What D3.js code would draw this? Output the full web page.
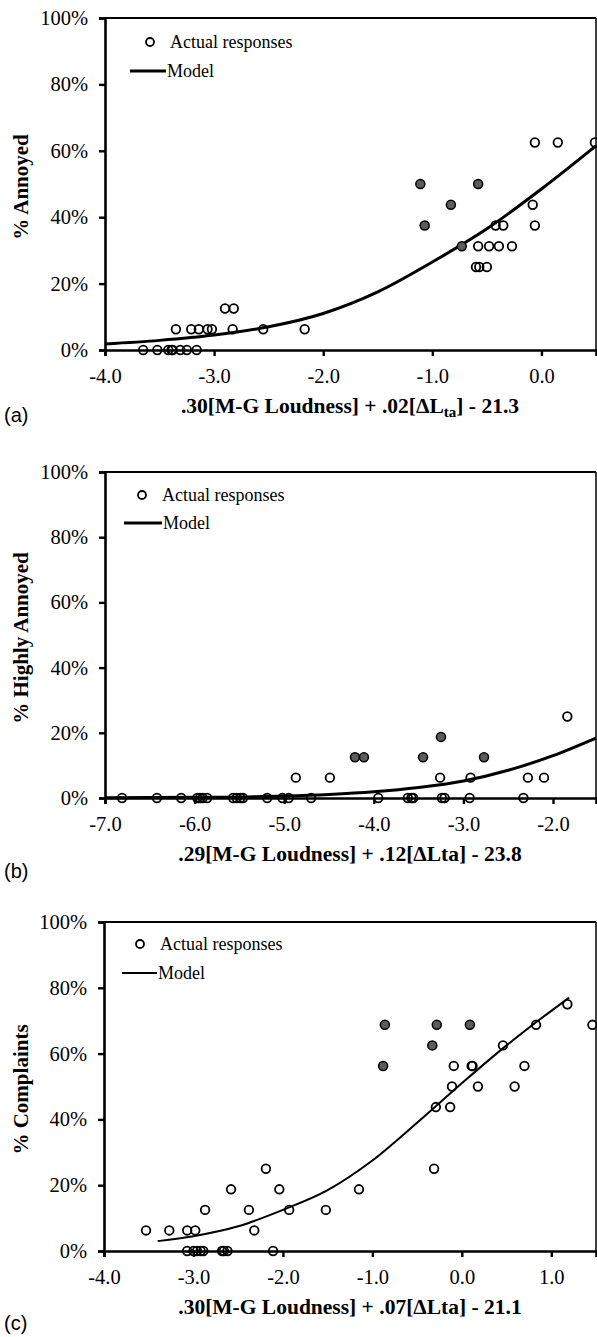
<!DOCTYPE html>
<html>
<head>
<meta charset="utf-8">
<script src="https://cdn.jsdelivr.net/npm/d3@7"></script>
<style>
  body { margin: 0; background: #fff; }
  svg text { font-family: "Liberation Serif", "Times New Roman", serif; fill: #000; }
  .axis-title { font-size: 21.5px; font-weight: bold; }
  .legend { font-size: 18px; }
</style>
</head>
<body>
<div id="chart"></div>
<script>
// (a) % annoyed
const annoyedOpen = [
  [-3.65, 0], [-3.52, 0], [-3.42, 0], [-3.39, 0], [-3.38, 0], [-3.31, 0], [-3.25, 0], [-3.16, 0],
  [-3.35, 6.25], [-3.21, 6.25], [-3.14, 6.25], [-3.06, 6.25], [-3.02, 6.25], [-2.83, 6.25], [-2.55, 6.25],
  [-2.90, 12.5], [-2.82, 12.5], [-2.17, 6.25],
  [-0.60, 25], [-0.57, 25], [-0.50, 25],
  [-0.58, 31.25], [-0.48, 31.25], [-0.39, 31.25], [-0.27, 31.25],
  [-0.42, 37.5], [-0.35, 37.5], [-0.06, 37.5], [-0.08, 43.75],
  [-0.06, 62.5], [0.15, 62.5], [0.49, 62.5]
]
const annoyedFilled = [[-1.11, 50], [-1.07, 37.5], [-0.83, 43.75], [-0.73, 31.25], [-0.58, 50]]
const annoyedModel = [
  [-4, 1.8], [-3.5, 2.9], [-3, 4.5], [-2.5, 7], [-2, 11], [-1.5, 17.5],
  [-1, 26.5], [-0.5, 36.5], [0, 48.5], [0.5, 61.5]
]

// (b) % highly annoyed
const highlyOpen = [
  [-6.81, 0], [-6.42, 0], [-6.15, 0], [-5.97, 0], [-5.94, 0], [-5.91, 0], [-5.86, 0],
  [-5.57, 0], [-5.53, 0], [-5.49, 0], [-5.46, 0], [-5.19, 0], [-5.02, 0], [-4.95, 0],
  [-4.70, 0], [-3.95, 0], [-3.62, 0], [-3.58, 0], [-3.56, 0], [-3.24, 0], [-3.21, 0],
  [-2.93, 0], [-2.33, 0],
  [-4.87, 6.25], [-4.49, 6.25], [-3.26, 6.25], [-2.92, 6.25], [-2.28, 6.25], [-2.10, 6.25],
  [-1.84, 25]
]
const highlyFilled = [[-4.21, 12.5], [-4.11, 12.5], [-3.45, 12.5], [-2.77, 12.5], [-3.25, 18.75]]
const highlyModel = [
  [-7, 0.1], [-6, 0.2], [-5, 0.6], [-4.5, 1.1], [-4, 1.9], [-3.5, 3.2],
  [-3, 5.2], [-2.5, 8.5], [-2, 13], [-1.52, 18.4]
]

// (c) % complaints
const complaintsOpen = [
  [-3.07, 0], [-3.00, 0], [-2.96, 0], [-2.92, 0], [-2.89, 0], [-2.68, 0], [-2.66, 0], [-2.62, 0], [-2.11, 0],
  [-3.53, 6.25], [-3.27, 6.25], [-3.07, 6.25], [-2.98, 6.25], [-2.32, 6.25],
  [-2.87, 12.5], [-2.38, 12.5], [-1.93, 12.5], [-1.52, 12.5],
  [-2.58, 18.75], [-2.04, 18.75], [-1.15, 18.75],
  [-2.19, 25], [-0.31, 25],
  [-0.29, 43.75], [-0.13, 43.75],
  [-0.11, 50], [0.18, 50], [0.59, 50],
  [-0.09, 56.25], [0.11, 56.25], [0.12, 56.25], [0.70, 56.25],
  [0.46, 62.5], [0.83, 68.75], [1.46, 68.75], [1.18, 75]
]
const complaintsFilled = [[-0.86, 68.75], [-0.28, 68.75], [0.09, 68.75], [-0.33, 62.5], [-0.88, 56.25]]
const complaintsModel = [
  [-3.4, 3], [-3, 4.5], [-2.5, 7.5], [-2, 12.5], [-1.5, 18.5], [-1, 27.5],
  [-0.5, 39], [0, 51], [0.5, 62.5], [1, 73], [1.2, 77]
]

const yTicks = [0, 20, 40, 60, 80, 100]
const panels = [
  { tag: '(a)', ytitle: '% Annoyed', xdom: [-4, 0.5], xticks: [-4, -3, -2, -1, 0],
    xtitle: ['.30[M-G Loudness] + .02[ΔL', 'ta', '] - 21.3'],
    open: annoyedOpen, filled: annoyedFilled, model: annoyedModel,
    top: 18, bottom: 350, left: 105, lineW: 3, tagY: 422,
    leg: [150, 42, 130, 166, 71] },
  { tag: '(b)', ytitle: '% Highly Annoyed', xdom: [-7, -1.52], xticks: [-7, -6, -5, -4, -3, -2],
    xtitle: ['.29[M-G Loudness] + .12[ΔLta] - 23.8'],
    open: highlyOpen, filled: highlyFilled, model: highlyModel,
    top: 472, bottom: 798, left: 105, lineW: 3, tagY: 878,
    leg: [142, 495, 124, 162, 523] },
  { tag: '(c)', ytitle: '% Complaints', xdom: [-4, 1.5], xticks: [-4, -3, -2, -1, 0, 1],
    xtitle: ['.30[M-G Loudness] + .07[ΔLta] - 21.1'],
    open: complaintsOpen, filled: complaintsFilled, model: complaintsModel,
    top: 922, bottom: 1251, left: 104, lineW: 2, tagY: 1330,
    leg: [140, 944, 122, 157, 973] }
]

const W = 597, H = 1337, right = 596
const serif = '"Liberation Serif", "Times New Roman", serif'

const svg = d3.select('#chart').append('svg')
  .attr('width', W)
  .attr('height', H)
  .attr('xmlns', 'http://www.w3.org/2000/svg')

panels.forEach(p => {
  const x = d3.scaleLinear().domain(p.xdom).range([p.left, right])
  const y = d3.scaleLinear().domain([0, 100]).range([p.bottom, p.top])
  const g = svg.append('g')

  // model curve first so the hollow markers sit over it
  const line = d3.line().x(d => x(d[0])).y(d => y(d[1])).curve(d3.curveMonotoneX)
  g.append('path')
    .datum(p.model)
    .attr('d', line)
    .attr('fill', 'none')
    .attr('stroke', '#000')
    .attr('stroke-width', p.lineW)

  g.selectAll('circle.open').data(p.open).join('circle')
    .attr('class', 'open')
    .attr('cx', d => x(d[0])).attr('cy', d => y(d[1]))
    .attr('r', 4.3)
    .attr('fill', 'none').attr('stroke', '#000').attr('stroke-width', 1.8)

  g.selectAll('circle.filled').data(p.filled).join('circle')
    .attr('class', 'filled')
    .attr('cx', d => x(d[0])).attr('cy', d => y(d[1]))
    .attr('r', 4.5)
    .attr('fill', '#5c5c5c').attr('stroke', '#000').attr('stroke-width', 1.5)

  // frame: top and right borders
  g.append('line').attr('x1', p.left).attr('x2', right).attr('y1', p.top).attr('y2', p.top)
    .attr('stroke', '#000').attr('stroke-width', 2)
  g.append('line').attr('x1', right).attr('x2', right).attr('y1', p.top).attr('y2', p.bottom)
    .attr('stroke', '#000').attr('stroke-width', 1.5)

  const yAxis = g.append('g')
    .attr('transform', `translate(${p.left},0)`)
    .call(d3.axisLeft(y).tickValues(yTicks).tickFormat(d => d + '%').tickSize(6).tickPadding(11))
  const xAxis = g.append('g')
    .attr('transform', `translate(0,${p.bottom})`)
    .call(d3.axisBottom(x).tickValues(p.xticks).tickSize(6).tickPadding(12))
  ;[yAxis, xAxis].forEach(a => {
    a.select('.domain').attr('stroke-width', 2.6)
    a.selectAll('.tick line').attr('stroke-width', 2.4)
    a.attr('font-size', 20).attr('font-family', serif)
    a.selectAll('.tick text').style('font-family', serif).style('font-size', '20.5px')
  })
  xAxis.selectAll('.tick text').text(d => d3.format('.1f')(d).replace('−', '-'))

  // x title
  const xt = g.append('text')
    .attr('class', 'axis-title')
    .attr('x', 350)
    .attr('y', p.bottom + 63)
    .attr('text-anchor', 'middle')
  xt.append('tspan').text(p.xtitle[0])
  if (p.xtitle.length > 1) {
    xt.append('tspan').attr('baseline-shift', '-25%').attr('font-size', '15px').text(p.xtitle[1])
    xt.append('tspan').text(p.xtitle[2])
  }

  // y title
  g.append('text')
    .attr('class', 'axis-title')
    .attr('transform', `translate(28,${(p.top + p.bottom) / 2 + 3}) rotate(-90)`)
    .attr('text-anchor', 'middle')
    .style('font-size', '21px')
    .text(p.ytitle)

  // legend
  const [cx, cy, lx1, lx2, ly] = p.leg
  g.append('circle').attr('cx', cx).attr('cy', cy).attr('r', 4)
    .attr('fill', 'none').attr('stroke', '#000').attr('stroke-width', 1.8)
  g.append('text').attr('class', 'legend').attr('x', cx + 20).attr('y', cy + 6).text('Actual responses')
  g.append('line').attr('x1', lx1).attr('x2', lx2).attr('y1', ly).attr('y2', ly)
    .attr('stroke', '#000').attr('stroke-width', p.lineW)
  g.append('text').attr('class', 'legend').attr('x', lx2 + 1).attr('y', ly + 6).text('Model')

  g.append('text')
    .attr('x', 4).attr('y', p.tagY)
    .style('font-family', '"Liberation Sans", Arial, sans-serif')
    .style('font-size', '20px')
    .text(p.tag)
})
</script>
</body>
</html>
